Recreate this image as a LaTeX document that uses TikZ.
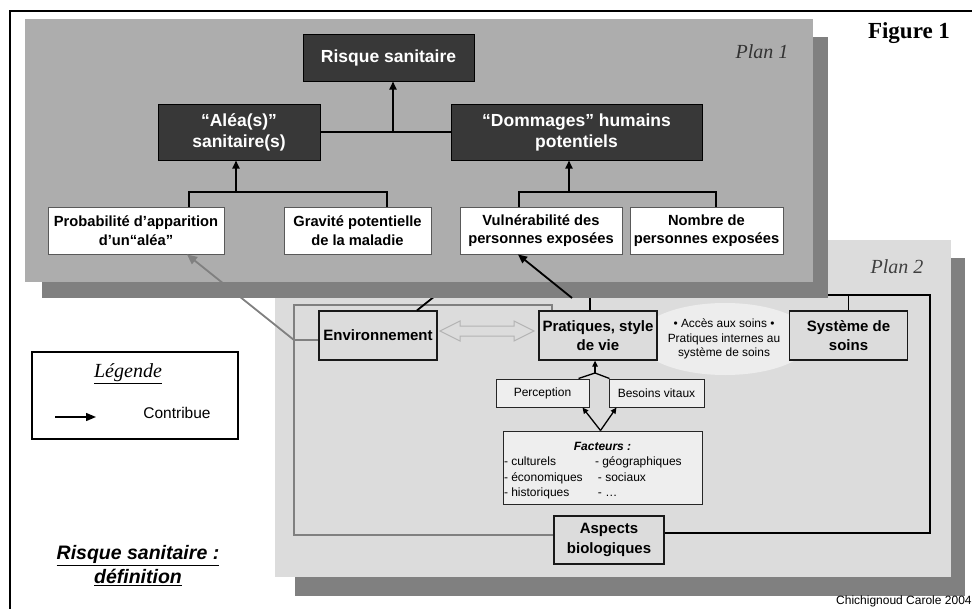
\documentclass[tikz,border=0pt]{standalone}
\usepackage{fontspec}
\setmainfont{Liberation Sans}
\newfontfamily\serifface{Liberation Serif}
\usetikzlibrary{arrows.meta,shapes.geometric,calc}
\definecolor{planA}{HTML}{ADADAD}
\definecolor{shadowc}{HTML}{808080}
\definecolor{planB}{HTML}{DCDCDC}
\definecolor{darkbox}{HTML}{383838}
\definecolor{ellc}{HTML}{EDEDED}
\definecolor{lightbox}{HTML}{EEEEEE}
\definecolor{glinec}{HTML}{808080}
\definecolor{dblarrowc}{HTML}{B4B4B4}
\begin{document}
\begin{tikzpicture}[x=1pt,y=-1pt,
 darknode/.style={draw=black, line width=1pt, fill=darkbox, text=white, font=\bfseries\fontsize{17.5}{21}\selectfont, align=center, inner sep=0pt},
 whitenode/.style={draw=black!65, line width=0.9pt, fill=white, font=\bfseries\fontsize{14.7}{18.5}\selectfont, align=center, inner sep=0pt, minimum height=47pt},
 ptwonode/.style={draw=black!90, line width=1.3pt, fill=planB, font=\bfseries\fontsize{15}{19.5}\selectfont, align=center, inner sep=0pt},
 smallnode/.style={draw=black!85, line width=1pt, fill=lightbox, font=\fontsize{12}{14}\selectfont, inner sep=0pt, minimum height=28pt},
 conn/.style={line width=1.8pt, draw=black},
 arr/.style={line width=1.8pt, draw=black, -{Triangle[length=8pt,width=7pt]}},
 varr/.style={line width=1.8pt, draw=black, -{Triangle[length=9pt,width=8pt]}},
 thinarr/.style={line width=1.3pt, draw=black, -{Triangle[length=6pt,width=5.5pt]}},
 legarr/.style={line width=1.4pt, draw=black, -{Triangle[length=10pt,width=8pt]}},
 thinconn/.style={line width=1.3pt, draw=black},
 gconn/.style={line width=1.8pt, draw=glinec},
 garr/.style={line width=1.8pt, draw=glinec, -{Triangle[length=10pt,width=9pt]}},
]
\useasboundingbox (0,0) rectangle (972,608);
\fill[white] (0,0) rectangle (972,608);
% outer frame
\draw[line width=1.5pt] (10,620) -- (10,11) -- (985,11);

% ---------- Plan 2 ----------
\fill[shadowc] (295,258) rectangle (965,596);
\fill[planB] (275,240) rectangle (951,577);
\node[font=\serifface\itshape\fontsize{20}{24}\selectfont, text=black!75] (plantwo) at (897,267) {Plan 2};

\node[ellipse, fill=ellc, minimum width=174pt, minimum height=72pt] (ell) at (725,339) {};
\node[font=\fontsize{11.9}{14.8}\selectfont, align=center] (elltext) at (724,339) {• Accès aux soins •\\Pratiques internes au\\système de soins};

% frame lines
\coordinate (gx) at (552,305);
\coordinate (gTL) at (294,305);
\coordinate (gJ) at (294,340);
\coordinate (gBL) at (294,535);
\coordinate (bx) at (590,295);
\coordinate (bTR) at (930,295);
\coordinate (bBR) at (930,533);
\coordinate (ex) at (417,311);
\coordinate (envEnd) at (445,288);

\node[ptwonode, minimum width=118pt, minimum height=49pt] (env) at (378,335.5) {Environnement};
\node[ptwonode, minimum width=118pt, minimum height=49pt] (prat) at (598,335.5) {Pratiques, style\\de vie};
\node[ptwonode, minimum width=118pt, minimum height=49pt] (syst) at (848.5,335.5) {Système de\\soins};
\node[smallnode, minimum width=93pt] (perc) at (542.5,393) {Perception};
\node[smallnode, minimum width=95pt] (bes) at (656.5,393) {Besoins vitaux};
\node[draw=black!85, line width=1pt, fill=lightbox, inner sep=1pt, minimum width=199pt, minimum height=73pt, font=\fontsize{12}{15.3}\selectfont] (fact) at (602.5,467.5)
 {\raisebox{-3pt}[\height][\depth]{\begin{tabular}{@{}p{91pt}@{}p{106pt}@{}}\multicolumn{2}{c}{\bfseries\itshape Facteurs :}\\
 - culturels & - géographiques\\
 - économiques & \hspace{3pt}- sociaux\\
 - historiques & \hspace{3pt}- …\end{tabular}}};
\node[ptwonode, minimum width=110pt, minimum height=48pt] (asp) at (609,540) {Aspects\\biologiques};

\draw[gconn] (prat.north -| gx) -- (gx) -- (gTL) -- (gBL) -- (asp.west |- gBL);
\draw[gconn] (gJ) -- (env.west |- gJ);
\draw[conn] (prat.north -| bx) -- (bx) -- (bTR) -- (bBR) -- (asp.east |- bBR);
\draw[conn] (syst.north) -- (syst.north |- bTR);
\draw[conn] (env.north -| ex) -- (envEnd);

\draw[dblarrowc, line width=1pt, fill=planB] (440,331) -- (460,321) -- (460,326) -- (514,326) -- (514,321) -- (534,331) -- (514,341) -- (514,336) -- (460,336) -- (460,341) -- cycle;

\coordinate (pj) at (595,373);
\draw[thinconn] ([xshift=-11pt]perc.north east) -- (pj) -- ([xshift=1pt]bes.north west);
\draw[thinarr] (pj) -- (prat.south -| pj);
\draw[thinarr] ([xshift=-2pt]fact.north) -- ([xshift=-7pt]perc.south east);
\draw[thinarr] ([xshift=-2pt]fact.north) -- ([xshift=8pt]bes.south west);

% ---------- Plan 1 ----------
\fill[shadowc] (42,37) rectangle (828,298);
\fill[planA] (25,19) rectangle (813,282);
\node[font=\serifface\itshape\fontsize{20}{24}\selectfont, text=black!80] (planone) at (762,52) {Plan 1};

\node[darknode, minimum width=171pt, minimum height=47pt] (risk) at (388.5,57.5) {Risque sanitaire};
\node[darknode, minimum width=162pt, minimum height=56pt] (alea) at (239,132) {“Aléa(s)”\\sanitaire(s)};
\node[darknode, minimum width=251pt, minimum height=56pt] (domm) at (576.5,132) {“Dommages” humains\\potentiels};
\node[whitenode, minimum width=176pt] (prob) at (136,230.5) {Probabilité d’apparition\\d’un“aléa”};
\node[whitenode, minimum width=147pt] (grav) at (357.5,230.5) {Gravité potentielle\\de la maladie};
\node[whitenode, minimum width=162pt] (vuln) at (541,230.5) {Vulnérabilité des\\personnes exposées};
\node[whitenode, minimum width=153pt] (nomb) at (706.5,230.5) {Nombre de\\personnes exposées};

\coordinate (rj) at (393,132);
\coordinate (pL) at (189,192);
\coordinate (pR) at (387,192);
\coordinate (aj) at (236,192);
\coordinate (vL) at (519,192);
\coordinate (vR) at (716,192);
\coordinate (dj) at (569,192);
\draw[conn] (alea.east) -- (domm.west);
\draw[arr] (rj) -- (risk.south -| rj);
\draw[conn] (prob.north -| pL) -- (pL) -- (pR) -- (grav.north -| pR);
\draw[arr] (aj) -- (alea.south -| aj);
\draw[conn] (vuln.north -| vL) -- (vL) -- (vR) -- (nomb.north -| vR);
\draw[arr] (dj) -- (domm.south -| dj);

\coordinate (pa) at (187,255);
\coordinate (va) at (518,255);
\coordinate (pvStart) at (572,298);
\draw[garr] (gJ) -- (prob.south -| pa);
\draw[varr] (pvStart) -- (vuln.south -| va);

% ---------- side texts ----------
\node[font=\serifface\bfseries\fontsize{23}{27}\selectfont] (fig) at (909,33) {Figure 1};
\node[draw=black, line width=1.3pt, fill=white, minimum width=206pt, minimum height=87pt, inner sep=0pt] (leg) at (135,395.5) {};
\node[font=\serifface\itshape\fontsize{20}{24}\selectfont] (legt) at (128,374) {\underline{Légende}};
\coordinate (la) at (55,417);
\coordinate (lb) at (96,417);
\draw[legarr] (la) -- (lb);
\node[font=\fontsize{15.5}{18}\selectfont] (contrib) at (177,413) {Contribue};
\node[font=\bfseries\itshape\fontsize{19.5}{24}\selectfont, align=center] (def) at (138,566) {\underline{Risque sanitaire :}\\\underline{définition}};
\node[anchor=base west, font=\fontsize{12}{14}\selectfont, inner sep=0pt] (auth) at (836,604) {Chichignoud Carole 2004};
\end{tikzpicture}
\end{document}
